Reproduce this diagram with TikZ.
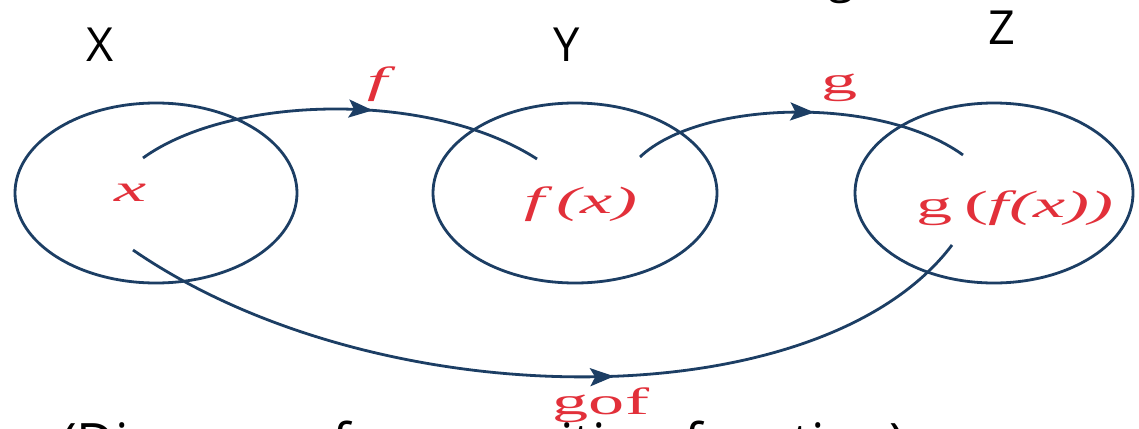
\documentclass[tikz,border=0pt]{standalone}
\usepackage{fontspec}
\setmainfont{Open Sans}
\newfontfamily\labfont{Liberation Serif}
\usetikzlibrary{shapes.geometric,arrows.meta,decorations.markings}
\definecolor{linecol}{RGB}{28,62,100}
\definecolor{labred}{RGB}{226,48,58}
\tikzset{
  setcirc/.style={ellipse,draw=linecol,line width=2.8pt,inner sep=0pt,minimum height=180pt},
  lab/.style={text=labred,inner sep=0pt,font=\labfont\fontsize{38}{40}\selectfont},
  settitle/.style={text=black,inner sep=0pt,font=\fontsize{47}{50}\selectfont},
  maparrow/.style={draw=linecol,line width=2.8pt,postaction={decorate},
    decoration={markings,mark=at position #1 with {\arrow{Stealth[length=24pt,width=18pt,inset=5pt]}}}},
}
\newcommand\sx[1]{\scalebox{1.9}[1]{#1}}
\begin{document}
\begin{tikzpicture}[x=1pt,y=-1pt]
\useasboundingbox (0,0) rectangle (1139,428);
\clip (0,0) rectangle (1139,428);
\fill[white] (0,0) rectangle (1139,428);
% set titles
\node[settitle] (tX) at (100,45) {X};
\node[settitle] (tY) at (567,45) {Y};
\node[settitle] (tZ) at (1002,28) {Z};
\node[settitle,anchor=base] (topg) at (841,-7) {g};
\node[settitle,anchor=base,font=\fontsize{53}{56}\selectfont] (caption) at (483,461) {(Diagram of composition function)};
% sets
\node[setcirc,minimum width=282pt] (X) at (156,193) {};
\node[setcirc,minimum width=284pt] (Y) at (575,193) {};
\node[setcirc,minimum width=278pt] (Z) at (994,193) {};
% elements
\node[lab] (x) at (131,193) {\sx{\itshape x}};
\node[lab] (fx) at (581,204) {\sx{\itshape f\,(x)}};
\node[lab] (gfx) at (1015,208) {\sx{g\,(\itshape f(x))}};
% arrow ends
\coordinate (fs) at (143,158);
\coordinate (fe) at (537,159);
\coordinate (gs) at (640,157);
\coordinate (ge) at (963,155);
\coordinate (hs) at (133,250);
\coordinate (he) at (952,245);
% maps
\draw[maparrow=0.58] (fs) .. controls (230,95) and (430,90) .. (fe);
\draw[maparrow=0.54] (gs) .. controls (700,100) and (880,95) .. (ge);
\draw[maparrow=0.575] (hs) .. controls (380,420) and (820,420) .. (he);
% map labels
\node[lab] (flab) at (378,84) {\sx{\itshape f}};
\node[lab] (glab) at (840,88) {\sx{g}};
\node[lab] (gof) at (601,405) {\sx{gof}};
\end{tikzpicture}
\end{document}
